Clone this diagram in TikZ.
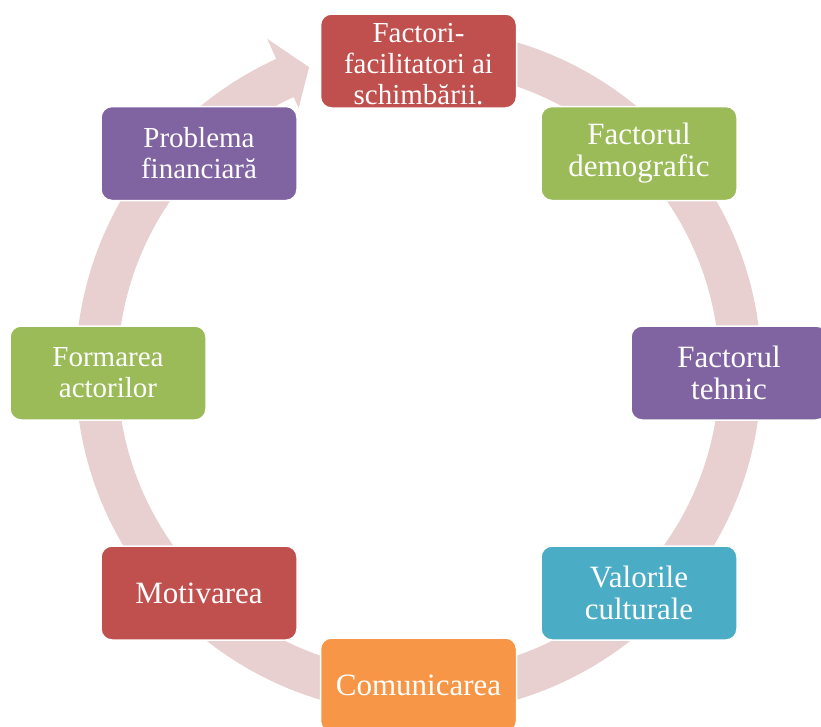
\documentclass[tikz,border=0pt]{standalone}
\usepackage{fontspec}
\setmainfont{Liberation Serif}

\definecolor{ringpink}{RGB}{232,208,209}
\definecolor{boxred}{RGB}{192,80,77}
\definecolor{boxgreen}{RGB}{155,187,89}
\definecolor{boxpurple}{RGB}{128,100,162}
\definecolor{boxteal}{RGB}{75,172,198}
\definecolor{boxorange}{RGB}{247,150,70}

\tikzset{every picture/.style={line width=0.75pt}}
\tikzset{
  cyclebox/.style={draw=white, line width=1.5pt, rounded corners=11pt, minimum width=196pt, minimum height=94pt, inner sep=2pt, text=white, align=center, font=\fontsize{31}{32}\selectfont},
  smalltext/.style={font=\fontsize{29}{31}\selectfont},
  ring/.style={draw=ringpink, line width=42pt},
}

\begin{document}
\begin{tikzpicture}[x=1pt,y=1pt,yscale=-1,xscale=1]
\useasboundingbox (0,0) rectangle (821,726);
\coordinate (centre) at (418.5,371);

% Ring
\draw[ring] (centre) ++(-88:322) arc[start angle=-88, end angle=246, radius=322];
% Arrow head
\begin{scope}[shift={(centre)}]
\fill[ringpink] (245.5:289) -- (250.2:323) -- (245.5:365) -- cycle;
\end{scope}

% Text Node
\node[cyclebox, fill=boxred, smalltext, text height=87.5pt, text depth=0pt] (facilitatori) at (418.5,61) {Factori-\\facilitatori ai\\schimbării.};
% Text Node
\node[cyclebox, fill=boxgreen] (demografic) at (639,153.5) {Factorul\\demografic};
% Text Node
\node[cyclebox, fill=boxpurple] (tehnic) at (729,373) {Factorul\\tehnic};
% Text Node
\node[cyclebox, fill=boxteal] (culturale) at (639,593) {Valorile\\culturale};
% Text Node
\node[cyclebox, fill=boxorange] (comunicarea) at (418.5,685) {Comunicarea};
% Text Node
\node[cyclebox, fill=boxred] (motivarea) at (199,593) {Motivarea};
% Text Node
\node[cyclebox, fill=boxgreen, smalltext] (formarea) at (108,373) {Formarea\\actorilor};
% Text Node
\node[cyclebox, fill=boxpurple, smalltext] (financiara) at (199,153.5) {Problema\\financiară};

\end{tikzpicture}
\end{document}
